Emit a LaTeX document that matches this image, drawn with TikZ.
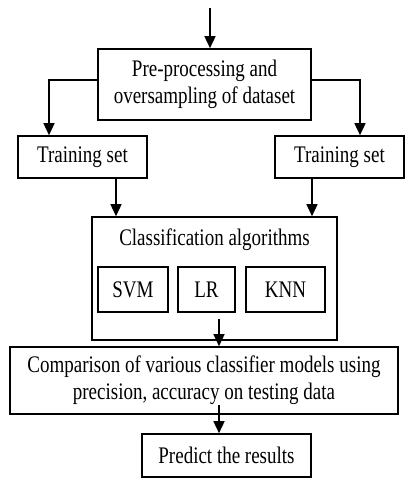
\documentclass[tikz,border=0pt]{standalone}
\usepackage{fontspec}
\setmainfont{Liberation Serif}
\usepackage{graphicx}
\usepackage{tikz}
\usetikzlibrary{calc}
\usetikzlibrary{arrows.meta}
\newcommand{\stretchtxt}[1]{\scalebox{1}[1.25]{#1}}
\tikzset{box/.style={draw, line width=1.6pt, align=center, inner sep=0, font=\fontsize{19}{27}\selectfont}}
\tikzset{flow/.style={line width=1.5pt, -{Triangle[width=11pt,length=12pt]}}}

\begin{document}
\begin{tikzpicture}[x=1pt,y=-1pt]
\useasboundingbox (0,0) rectangle (411,486);
\coordinate (start) at (210,8);
\node[box, minimum width=213, minimum height=71] (pre) at (204.5,84.5) {\stretchtxt{Pre-processing and}\\\stretchtxt{oversampling of dataset}};
\node[box, minimum width=129, minimum height=42] (trainL) at (82.5,157) {\stretchtxt{Training set}};
\node[box, minimum width=129, minimum height=42] (trainR) at (339.5,157) {\stretchtxt{Training set}};
\node[box, minimum width=245, minimum height=123] (classif) at (214.5,278.5) {};
\node[font=\fontsize{19}{27}\selectfont] (title) at (214.5,240) {\stretchtxt{Classification algorithms}};
\node[box, minimum width=70, minimum height=45] (svm) at (133,289.5) {\stretchtxt{SVM}};
\node[box, minimum width=57, minimum height=45] (lr) at (206.5,289.5) {\stretchtxt{LR}};
\node[box, minimum width=79, minimum height=45] (knn) at (285.5,289.5) {\stretchtxt{KNN}};
\node[box, minimum width=388, minimum height=67] (compare) at (204,380.5) {\stretchtxt{Comparison of various classifier models using}\\\stretchtxt{precision, accuracy on testing data}};
\node[box, minimum width=169, minimum height=43] (predict) at (226.5,455.5) {\stretchtxt{Predict the results}};
\coordinate (c1) at (219,319);
\coordinate (c2) at (219,405);
% arrows
\draw[flow] (start) -- (start |- pre.north);
\draw[flow] ([yshift=4.5pt]pre.west) -| ([xshift=-33.5pt]trainL.north);
\draw[flow] ([yshift=4.5pt]pre.east) -| ([xshift=20.5pt]trainR.north);
\draw[flow] ([xshift=33.5pt]trainL.south) -- ([xshift=33.5pt]trainL.south |- classif.north);
\draw[flow] ([xshift=-27.5pt]trainR.south) -- ([xshift=-27.5pt]trainR.south |- classif.north);
\draw[flow] (c1) -- (c1 |- compare.north);
\draw[flow] (c2) -- (c2 |- predict.north);
\end{tikzpicture}
\end{document}
